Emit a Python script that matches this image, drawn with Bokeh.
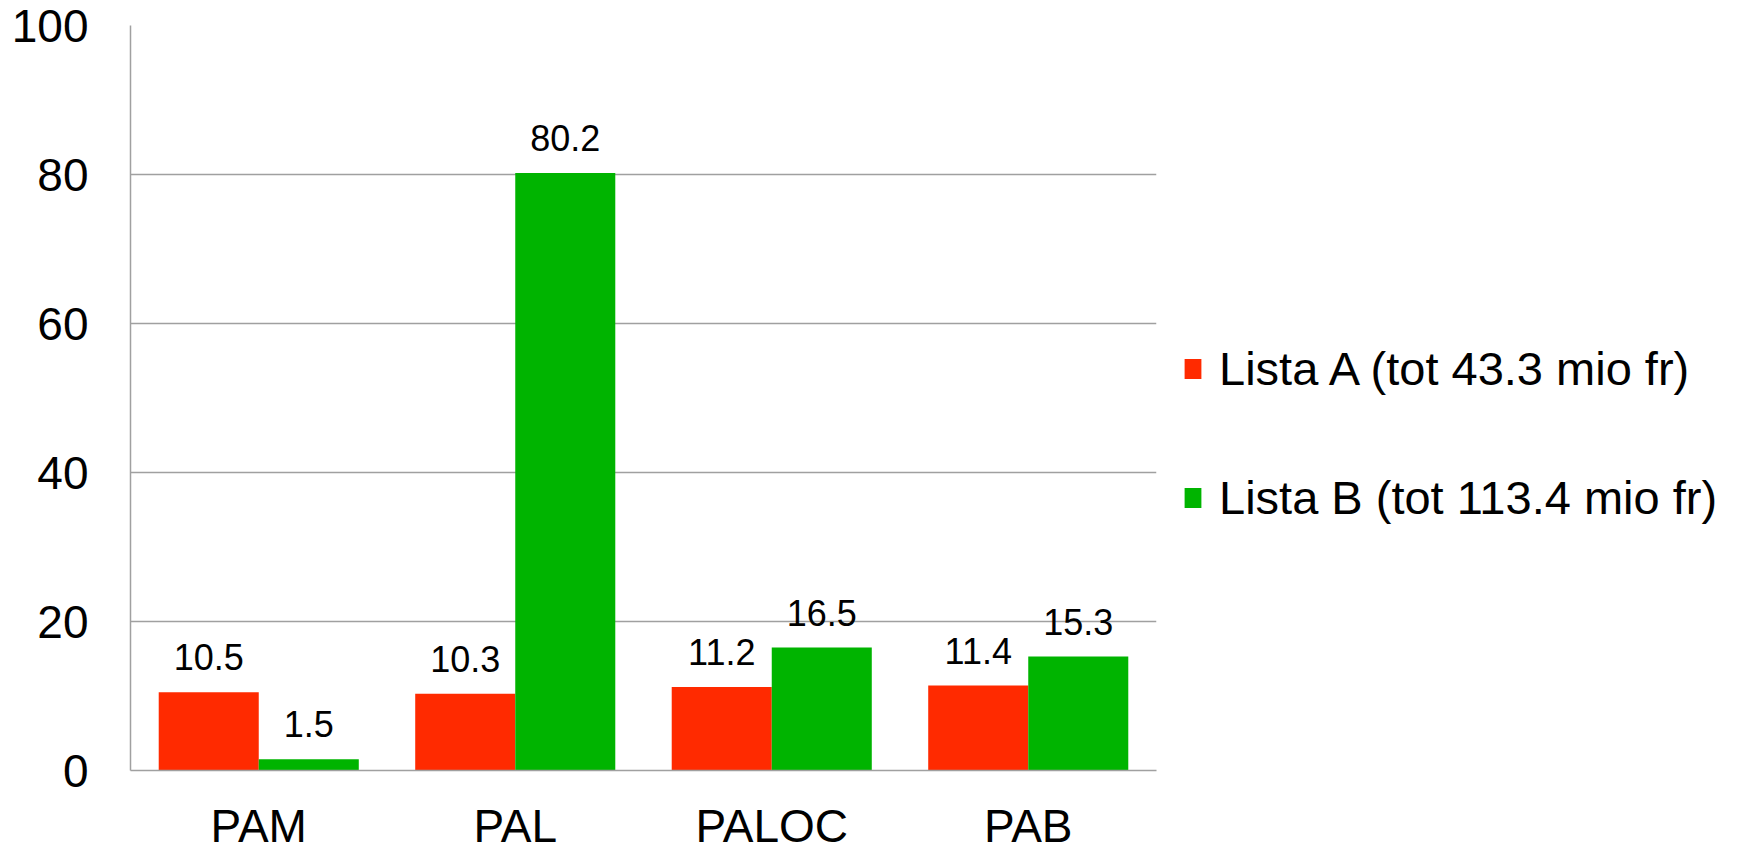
from bokeh.plotting import figure
from bokeh.models import ColumnDataSource, FactorRange, Legend, LegendItem, LabelSet, FixedTicker, Range1d
from bokeh.transform import dodge
from bokeh.core.properties import value
from bokeh.embed import file_html
from bokeh.resources import INLINE

categories = ["PAM", "PAL", "PALOC", "PAB"]
lista_a = [10.5, 10.3, 11.2, 11.4]
lista_b = [1.5, 80.2, 16.5, 15.3]
series_names = ["Lista A (tot 43.3 mio fr)", "Lista B (tot 113.4 mio fr)"]
y_ticks = [0, 20, 40, 60, 80, 100]

RED = "#FF2A00"
GREEN = "#00B400"
FONT = "Liberation Sans"
GRID = "#a0a0a0"

src = ColumnDataSource(dict(
    cats=categories,
    a=lista_a,
    b=lista_b,
    a_txt=[f"{v:.1f}" for v in lista_a],
    b_txt=[f"{v:.1f}" for v in lista_b],
))

p = figure(
    x_range=FactorRange(factors=categories, range_padding=0),
    y_range=Range1d(0, 100),
    frame_width=1026, frame_height=745,
    output_backend="svg", toolbar_location=None,
    min_border_left=130, min_border_top=25, min_border_bottom=80, min_border_right=0,
)
p.outline_line_color = None
p.background_fill_color = "white"

bw = 0.39
ra = p.vbar(x=dodge("cats", -bw / 2, range=p.x_range), top="a", width=bw, bottom=0,
            source=src, fill_color=RED, line_color=None)
rb = p.vbar(x=dodge("cats", bw / 2, range=p.x_range), top="b", width=bw, bottom=0,
            source=src, fill_color=GREEN, line_color=None)

for col, txt, off in (("a", "a_txt", -bw / 2), ("b", "b_txt", bw / 2)):
    lbl = LabelSet(x=dodge("cats", off, range=p.x_range), y=col, text=txt, source=src,
                   y_offset=22, text_align="center", text_baseline="alphabetic",
                   text_font=value(FONT), text_font_size=value("36px"), text_color="black")
    p.add_layout(lbl)

# axes
p.yaxis.ticker = FixedTicker(ticks=y_ticks)
p.yaxis.major_label_text_font = FONT
p.yaxis.major_label_text_font_size = "46px"
p.yaxis.major_label_text_color = "black"
p.yaxis.major_label_standoff = 42
p.yaxis.major_tick_out = 0
p.yaxis.major_tick_in = 0
p.yaxis.major_tick_line_color = None
p.yaxis.minor_tick_line_color = None
p.yaxis.axis_line_color = GRID
p.yaxis.axis_line_width = 1.5

p.xaxis.major_label_text_font = FONT
p.xaxis.major_label_text_font_size = "46px"
p.xaxis.major_label_text_color = "black"
p.xaxis.major_label_standoff = 29
p.xaxis.major_tick_out = 0
p.xaxis.major_tick_in = 0
p.xaxis.major_tick_line_color = None
p.xaxis.minor_tick_line_color = None
p.xaxis.axis_line_color = GRID
p.xaxis.axis_line_width = 1.5

p.xgrid.grid_line_color = None
p.ygrid.ticker = FixedTicker(ticks=y_ticks)
p.ygrid.grid_line_color = GRID
p.ygrid.grid_line_width = 1.5

legend = Legend(
    items=[LegendItem(label=series_names[0], renderers=[ra]),
           LegendItem(label=series_names[1], renderers=[rb])],
    location=(26, 245),
    orientation="vertical",
    glyph_width=21, glyph_height=25,
    label_text_font=FONT, label_text_font_size="47px", label_text_color="black",
    label_standoff=16, spacing=74, padding=0, margin=0,
    border_line_color=None, background_fill_alpha=0,
)
p.add_layout(legend, "right")

open("out.html", "w").write(file_html(p, INLINE))
